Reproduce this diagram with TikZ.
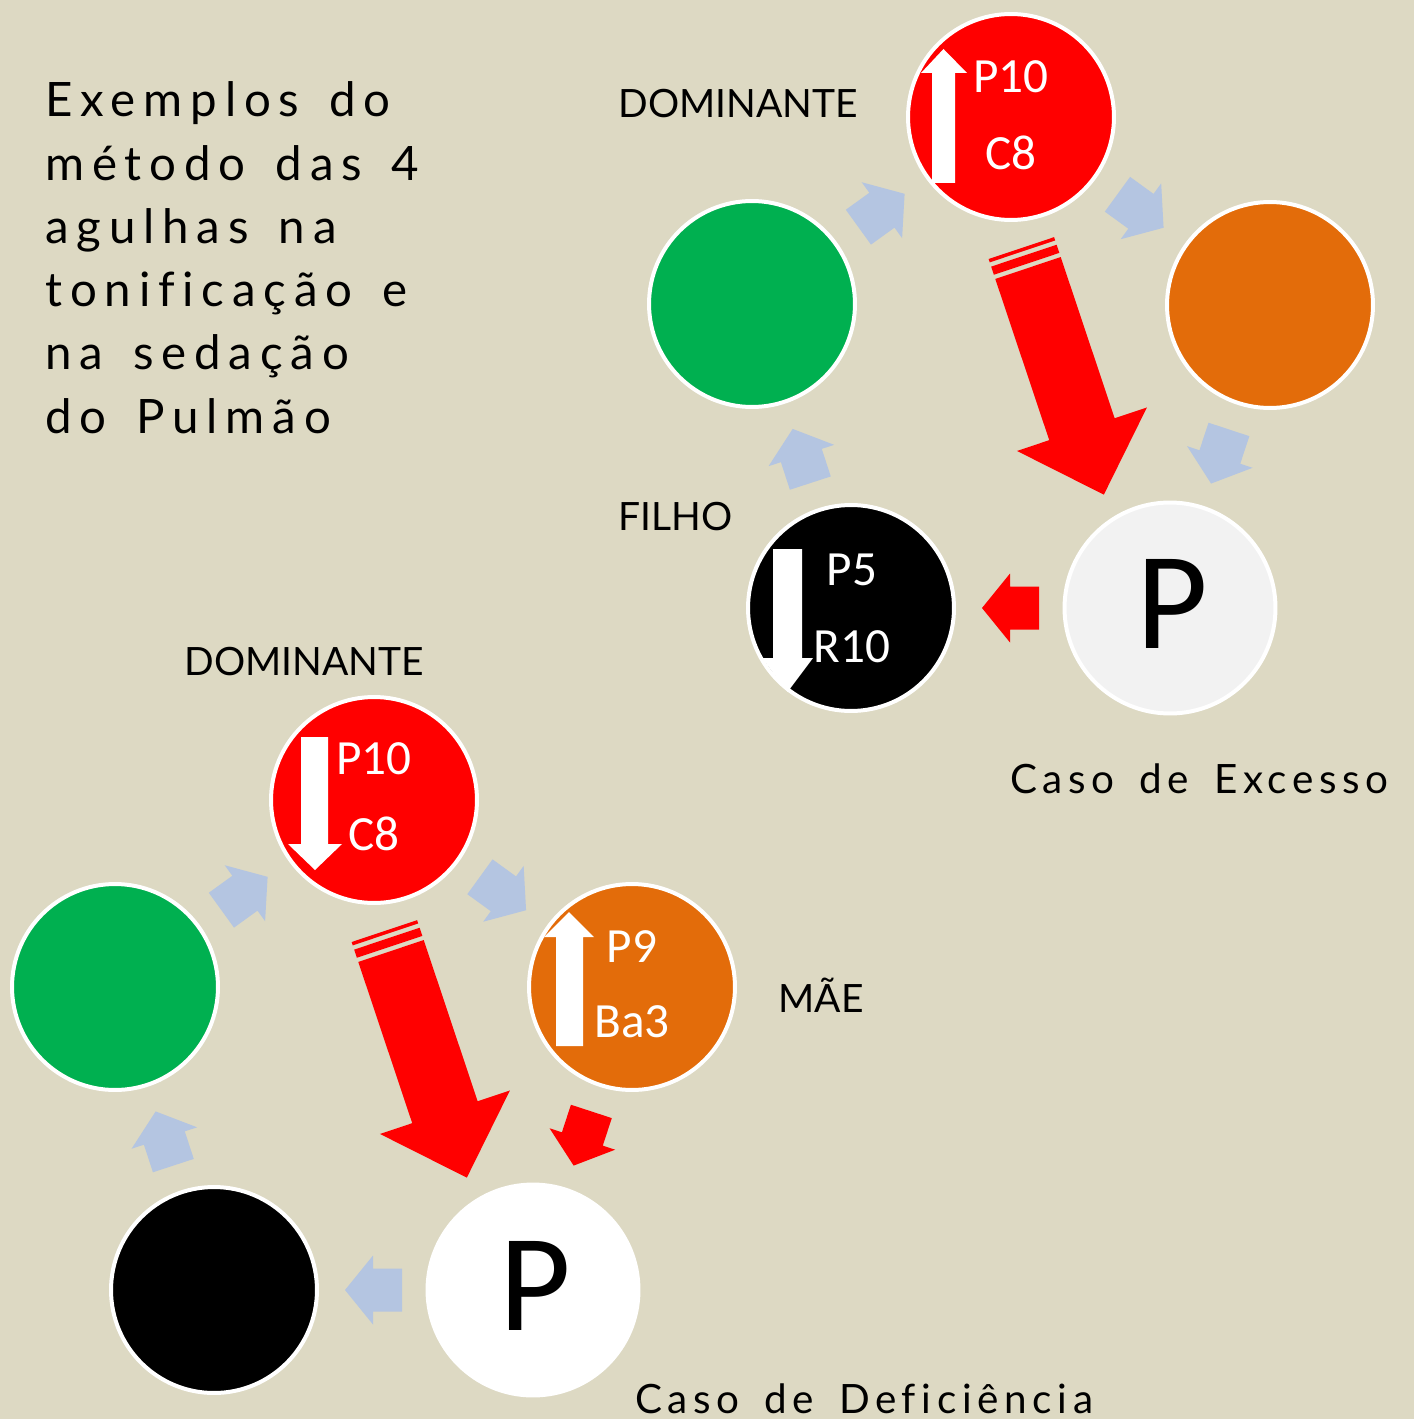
\documentclass[tikz,border=0pt]{standalone}
\usepackage{fontspec}
\usetikzlibrary{calc}
\newfontfamily\calfont{Carlito}
\newfontfamily\gillfont{Lato}
\newfontfamily\titlefont[LetterSpace=16.5, WordSpace=1.5, Ligatures=NoCommon]{Lato}
\newfontfamily\casofont[LetterSpace=14, WordSpace=1.55, Ligatures=NoCommon]{Lato}
\definecolor{bgc}{RGB}{221,217,195}
\definecolor{cgreen}{RGB}{0,176,80}
\definecolor{corange}{RGB}{227,108,10}
\definecolor{cred}{RGB}{255,0,0}
\definecolor{cblue}{RGB}{180,197,225}
\definecolor{cgray}{RGB}{242,242,242}
\tikzset{
  ring/.style={circle, draw=white, line width=2.27pt, inner sep=0pt, minimum size=4.12cm},
  pring/.style={ring, minimum size=4.22cm},
  ctext/.style={font=\calfont\fontsize{28}{30}\selectfont, text=white, anchor=base, inner sep=0pt},
  ptext/.style={font=\calfont\fontsize{79}{82}\selectfont, text=black, anchor=base, inner sep=0pt},
  lab/.style={font=\gillfont\fontsize{22.2}{26}\selectfont, anchor=base west, inner sep=0pt},
  ttl/.style={font=\titlefont\fontsize{27}{30}\selectfont, anchor=base west, inner sep=0pt},
  caso/.style={font=\casofont\fontsize{23}{26}\selectfont, anchor=base west, inner sep=0pt},
}
% small block arrow between two circles
\newcommand{\cyc}[3]{%
  \pgfmathanglebetweenpoints{\pgfpointanchor{#1}{center}}{\pgfpointanchor{#2}{center}}%
  \let\cycang\pgfmathresult
  \begin{scope}[shift={($(#1.center)!0.5!(#2.center)$)}, rotate=\cycang]
    \fill[#3] (-28.5,-21.5) -- (0.5,-21.5) -- (0.5,-34.5) -- (28.5,0) -- (0.5,34.5) -- (0.5,21.5) -- (-28.5,21.5) -- cycle;
  \end{scope}}
% big striped red arrow from the dominant circle
\newcommand{\bigred}[1]{%
  \begin{scope}[shift={(#1.center)}]
  \begin{scope}[shift={(17,-151)}, rotate=-71.5]
    \fill[cred] (0,-34.5) -- (170,-34.5) -- (170,-68.5) -- (239,0) -- (170,68.5) -- (170,34.5) -- (0,34.5) -- cycle;
    \fill[cred] (-13,-34.5) -- (-4.4,-34.5) -- (-4.4,34.5) -- (-13,34.5) -- cycle;
    \fill[cred] (-21,-34.5) -- (-17.5,-34.5) -- (-17.5,34.5) -- (-21,34.5) -- cycle;
  \end{scope}
  \end{scope}}
\begin{document}
\begin{tikzpicture}[x=0.02cm, y=0.02cm]
\useasboundingbox (0,0) rectangle (1414,-1419);
\fill[bgc] (0,0) rectangle (1414,-1419);

% ---------- title ----------
\node[ttl] (t1) at (45,-117) {Exemplos do};
\node[ttl] (t2) at (45,-180.2) {método das 4};
\node[ttl] (t3) at (45,-243.4) {agulhas na};
\node[ttl] (t4) at (45,-306.6) {tonificação e};
\node[ttl] (t5) at (45,-369.8) {na sedação};
\node[ttl] (t6) at (45,-433) {do Pulmão};

% ---------- excess case (top right) ----------
\node[ring, fill=cred] (tR) at (1011,-117) {};
\node[ring, fill=cgreen] (tG) at (752,-304) {};
\node[ring, fill=corange] (tO) at (1270,-305) {};
\node[pring, fill=cgray] (tP) at (1170,-608) {};
\node[ring, fill=black] (tB) at (851,-608) {};

\cyc{tG}{tR}{cblue}
\cyc{tR}{tO}{cblue}
\cyc{tO}{tP}{cblue}
\cyc{tB}{tG}{cblue}
\cyc{tP}{tB}{cred}
\bigred{tR}

\begin{scope}[shift={(tR.center)}]
  \fill[white] (-79,-66) -- (-56,-66) -- (-56,44) -- (-44,44) -- (-67.5,68) -- (-90,44) -- (-79,44) -- cycle;
\end{scope}
\begin{scope}[shift={(tB.center)}]
  \fill[white] (-78,59) -- (-49,59) -- (-49,-50) -- (-38,-50) -- (-63.5,-84) -- (-89,-50) -- (-78,-50) -- cycle;
\end{scope}

\node[ctext] (tR1) at ($(tR.center)+(0,24)$) {P10};
\node[ctext] (tR2) at ($(tR.center)+(0,-53)$) {C8};
\node[ctext] (tB1) at ($(tB.center)+(1,23)$) {P5};
\node[ctext] (tB2) at ($(tB.center)+(1,-54)$) {R10};
\node[ptext] (tPl) at ($(tP.center)+(2,-40)$) {P};

\node[lab] (tDom) at (618,-118) {DOMINANTE};
\node[lab] (tFil) at (618,-530) {FILHO};
\node[caso] (tCaso) at (1010,-793) {Caso de Excesso};

% ---------- deficiency case (bottom left) ----------
\node[ring, fill=cred] (bR) at (374,-800) {};
\node[ring, fill=cgreen] (bG) at (115,-987) {};
\node[ring, fill=corange] (bO) at (632,-987) {};
\node[pring, fill=white] (bP) at (533,-1290) {};
\node[ring, fill=black] (bB) at (214,-1290) {};

\cyc{bG}{bR}{cblue}
\cyc{bR}{bO}{cblue}
\cyc{bO}{bP}{cred}
\cyc{bB}{bG}{cblue}
\cyc{bP}{bB}{cblue}
\bigred{bR}

\begin{scope}[shift={(bR.center)}]
  \fill[white] (-73,63) -- (-46,63) -- (-46,-44) -- (-32,-44) -- (-59,-70) -- (-86,-44) -- (-73,-44) -- cycle;
\end{scope}
\begin{scope}[shift={(bO.center)}]
  \fill[white] (-76,-59) -- (-49,-59) -- (-49,50) -- (-38,50) -- (-63,75) -- (-88,50) -- (-76,50) -- cycle;
\end{scope}

\node[ctext] (bR1) at ($(bR.center)+(0,26)$) {P10};
\node[ctext] (bR2) at ($(bR.center)+(0,-50)$) {C8};
\node[ctext] (bO1) at ($(bO.center)+(0,25)$) {P9};
\node[ctext] (bO2) at ($(bO.center)+(0,-50)$) {Ba3};
\node[ptext] (bPl) at ($(bP.center)+(2,-40)$) {P};

\node[lab] (bDom) at (184,-675) {DOMINANTE};
\node[lab] (bMae) at (778,-1012) {MÃE};
\node[caso] (bCaso) at (635,-1413) {Caso de Deficiência};
\end{tikzpicture}
\end{document}
